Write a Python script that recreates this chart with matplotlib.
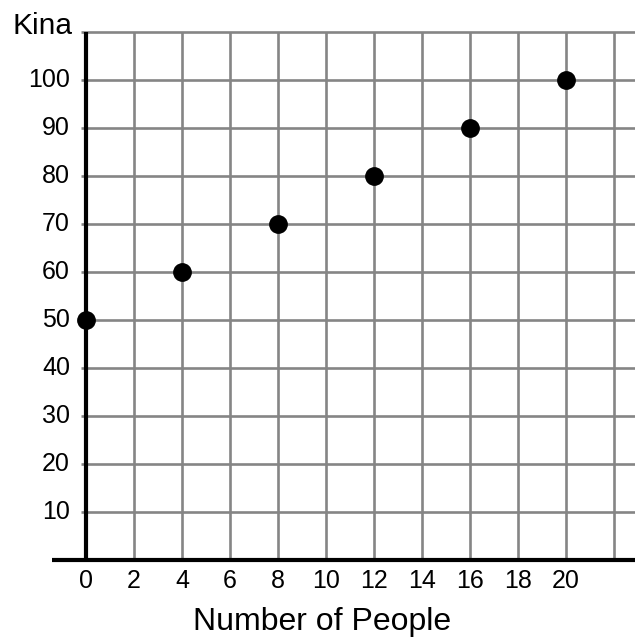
import matplotlib.pyplot as plt

# data
people = [0, 4, 8, 12, 16, 20]
kina = [50, 60, 70, 80, 90, 100]
x_ticks = [0, 2, 4, 6, 8, 10, 12, 14, 16, 18, 20]
y_ticks = [10, 20, 30, 40, 50, 60, 70, 80, 90, 100]

plt.rcParams['font.family'] = ['Liberation Sans', 'DejaVu Sans']
grey = '#858585'

fig = plt.figure(figsize=(6.35, 6.37), dpi=100, facecolor='white')
ax = fig.add_axes([0, 0, 1, 1])
ax.set_xlim(-86 / 24.0, 549 / 24.0)
ax.set_ylim(-77 / 4.8, 560 / 4.8)
ax.axis('off')

# grid
for x in x_ticks + [22]:
    ax.plot([x, x], [0, 110], color=grey, lw=1.9, zorder=1, solid_capstyle='butt')
for y in y_ticks + [110]:
    ax.plot([-0.2, 23], [y, y], color=grey, lw=1.9, zorder=1, solid_capstyle='butt')

# axes lines
ax.plot([0, 0], [0, 110], color='black', lw=3, zorder=2, solid_capstyle='butt')
ax.plot([-1.42, 23], [0, 0], color='black', lw=3, zorder=2, solid_capstyle='butt')

# tick labels
for x in x_ticks:
    ax.text(x, -4.3, str(x), ha='center', va='center', fontsize=18)
for y in y_ticks:
    ax.text(-0.67, y, str(y), ha='right', va='center', fontsize=18)

ax.text(-0.58, 111.2, 'Kina', ha='right', va='center', fontsize=21.5)
ax.text(9.83, -13, 'Number of People', ha='center', va='center', fontsize=23)

# points
ax.plot(people, kina, 'o', color='black', ms=12.5, zorder=3, clip_on=False)

fig.savefig('out.png', dpi=100, facecolor='white')
